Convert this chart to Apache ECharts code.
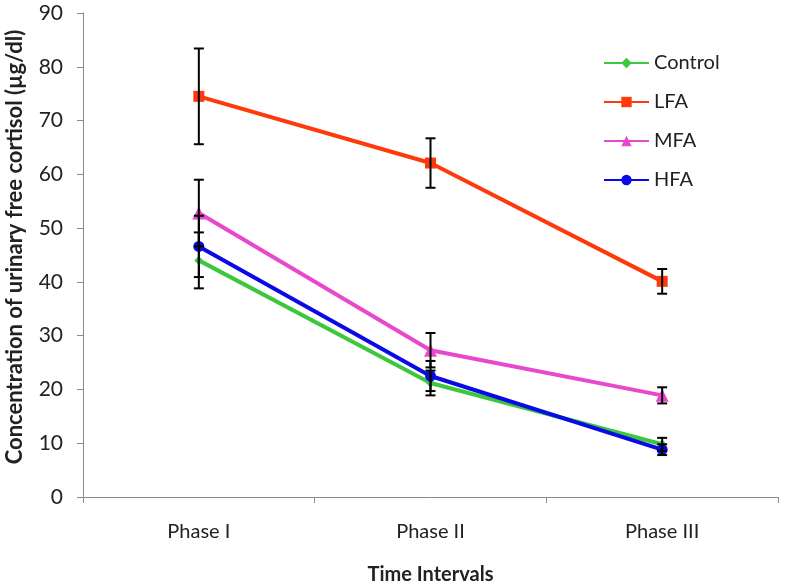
<!DOCTYPE html>
<html><head><meta charset="utf-8">
<script src="https://cdn.jsdelivr.net/npm/echarts@6/dist/echarts.min.js"></script>
<style>html,body{margin:0;padding:0;background:#fff}#c{width:785px;height:587px}</style>
</head><body><div id="c"></div>
<script>
const categories = ['Phase I', 'Phase II', 'Phase III'];
const yTicks = [0, 10, 20, 30, 40, 50, 60, 70, 80, 90];
const seriesNames = ['Control', 'LFA', 'MFA', 'HFA'];
const control = [44.0, 21.2, 9.8];
const controlErr = [5.2, 2.3, 1.2];
const lfa = [74.5, 62.1, 40.1];
const lfaErr = [8.9, 4.6, 2.3];
const mfa = [52.8, 27.3, 18.9];
const mfaErr = [6.2, 3.2, 1.5];
const hfa = [46.6, 22.5, 8.8];
const hfaErr = [5.7, 2.8, 1.0];

const colors = ['#3cc83c', '#ff3a0a', '#e848cc', '#0a0ae6'];
const symbols = ['diamond', 'rect', 'triangle', 'circle'];
const symSizes = [9, 11, 13, 11];
const values = [control, lfa, mfa, hfa];
const errs = [controlErr, lfaErr, mfaErr, hfaErr];
const FONT = 'Lato';

const chart = echarts.init(document.getElementById('c'), null, {renderer: 'canvas'});

const lineSeries = seriesNames.map((n, k) => ({
  name: n, type: 'line', data: values[k],
  color: colors[k],
  lineStyle: {width: 4, color: colors[k]},
  itemStyle: {color: colors[k]},
  symbol: symbols[k], symbolSize: symSizes[k], showSymbol: true,
  z: 2 + k
}));

const errData = [];
values.forEach((v, k) => v.forEach((y, i) => errData.push([i, y - errs[k][i], y + errs[k][i]])));

const errSeries = {
  type: 'custom', name: 'err', z: 10, silent: true,
  data: errData,
  renderItem: function (params, api) {
    const lo = api.coord([api.value(0), api.value(1)]);
    const hi = api.coord([api.value(0), api.value(2)]);
    const w = 5;
    const st = {stroke: '#000', lineWidth: 2};
    return {type: 'group', children: [
      {type: 'line', shape: {x1: lo[0], y1: lo[1], x2: hi[0], y2: hi[1]}, style: st},
      {type: 'line', shape: {x1: lo[0] - w, y1: lo[1], x2: lo[0] + w, y2: lo[1]}, style: st},
      {type: 'line', shape: {x1: hi[0] - w, y1: hi[1], x2: hi[0] + w, y2: hi[1]}, style: st}
    ]};
  }
};

chart.setOption({
  animation: false,
  backgroundColor: '#fff',
  textStyle: {fontFamily: FONT},
  grid: {left: 83, right: 7, top: 13, bottom: 90, containLabel: false, outerBoundsMode: 'none'},
  legend: {
    data: seriesNames,
    orient: 'vertical', left: 598, top: 48, itemGap: 19,
    itemWidth: 45, itemHeight: 13,
    textStyle: {fontSize: 20, color: '#222', fontFamily: FONT, lineHeight: 20},
    selectedMode: false
  },
  xAxis: {
    type: 'category', data: categories, boundaryGap: true,
    axisLine: {lineStyle: {color: '#8a8a8a', width: 1}},
    axisTick: {show: true, length: 6, lineStyle: {color: '#8a8a8a'}},
    axisLabel: {fontSize: 20, color: '#222', margin: 25, fontFamily: FONT},
    name: 'Time Intervals', nameLocation: 'middle', nameGap: 68,
    nameTextStyle: {fontSize: 20, fontWeight: 'bold', color: '#222', fontFamily: FONT}
  },
  yAxis: {
    type: 'value', min: yTicks[0], max: yTicks[yTicks.length - 1], interval: 10,
    axisLine: {show: true, lineStyle: {color: '#8a8a8a', width: 1}},
    axisTick: {show: true, length: 6, lineStyle: {color: '#8a8a8a'}},
    splitLine: {show: false},
    axisLabel: {fontSize: 21, color: '#222', margin: 20, fontFamily: FONT},
    name: 'Concentration of urinary free cortisol (µg/dl)', nameLocation: 'middle', nameGap: 57,
    nameTextStyle: {fontSize: 22, fontWeight: 'bold', color: '#222', fontFamily: FONT, padding: [0, 0, 0, 16]}
  },
  series: lineSeries.concat([errSeries])
});
</script></body></html>
